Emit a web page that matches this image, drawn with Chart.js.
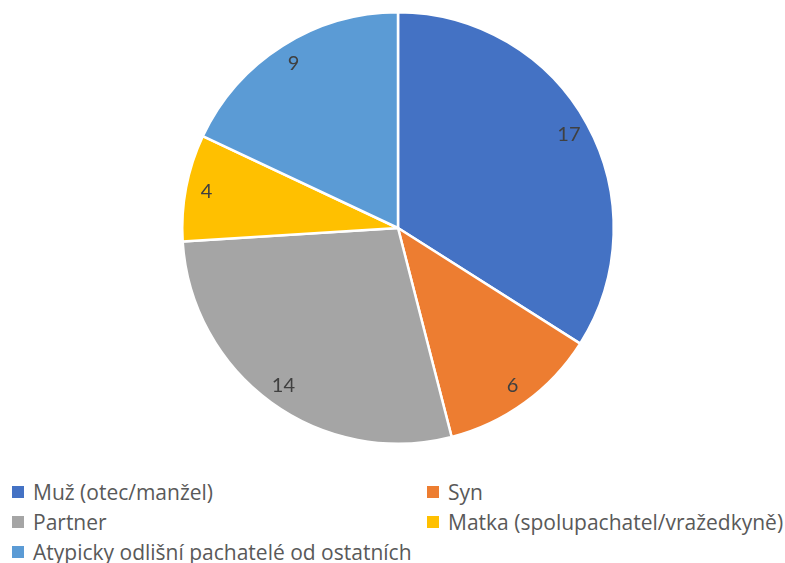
<!DOCTYPE html>
<html>
<head>
<meta charset="utf-8">
<script src="https://cdn.jsdelivr.net/npm/chart.js@4"></script>
<style>
  body { margin: 0; background: #fff; }
  .wrap { position: relative; width: 785px; height: 563px; }
  .pie-box { position: absolute; left: 0; top: 0; width: 785px; height: 460px; }
  .legend { position: absolute; left: 0; top: 480px; width: 785px; font-family: "Open Sans", "Liberation Sans", sans-serif; font-size: 21px; color: #595959; }
  .legend span { position: absolute; white-space: nowrap; line-height: 24px; padding-left: 21px; }
  .legend i { position: absolute; left: 0; top: 6px; width: 12px; height: 12px; }
</style>
</head>
<body>
<div class="wrap">
  <div class="pie-box"><canvas id="pie"></canvas></div>
  <div class="legend" id="legend"></div>
</div>
<script>
const categories = [
  'Muž (otec/manžel)',
  'Syn',
  'Partner',
  'Matka (spolupachatel/vražedkyně)',
  'Atypicky odlišní pachatelé od ostatních'
];
const values = [17, 6, 14, 4, 9];
const colors = ['#4472C4', '#ED7D31', '#A5A5A5', '#FFC000', '#5B9BD5'];

// numbers drawn inside each slice, near the rim
const sliceLabels = {
  id: 'sliceLabels',
  afterDatasetsDraw(chart) {
    const ctx = chart.ctx;
    const meta = chart.getDatasetMeta(0);
    ctx.save();
    ctx.font = '20px Lato, "Liberation Sans", sans-serif';
    ctx.fillStyle = '#404040';
    ctx.textAlign = 'center';
    ctx.textBaseline = 'middle';
    meta.data.forEach((arc, i) => {
      const p = arc.getProps(['x', 'y', 'startAngle', 'endAngle', 'outerRadius'], true);
      const mid = (p.startAngle + p.endAngle) / 2;
      const r = 195;
      ctx.fillText(String(values[i]), p.x + Math.cos(mid) * r, p.y + Math.sin(mid) * r);
    });
    ctx.restore();
  }
};

new Chart(document.getElementById('pie'), {
  type: 'pie',
  data: {
    labels: categories,
    datasets: [{
      data: values,
      backgroundColor: colors,
      borderColor: '#ffffff',
      borderWidth: 2.5
    }]
  },
  options: {
    responsive: true,
    maintainAspectRatio: false,
    animation: false,
    layout: { padding: { top: 11, bottom: 15, left: 11, right: 0 } },
    plugins: {
      legend: { display: false },
      tooltip: { enabled: false }
    }
  },
  plugins: [sliceLabels]
});

// legend laid out in two columns like the original
const legendEl = document.getElementById('legend');
const legendPos = [[12, 0], [427, 0], [12, 30], [427, 30], [12, 60]];
categories.forEach((name, i) => {
  const item = document.createElement('span');
  item.style.left = legendPos[i][0] + 'px';
  item.style.top = legendPos[i][1] + 'px';
  item.innerHTML = '<i style="background:' + colors[i] + '"></i>' + name;
  legendEl.appendChild(item);
});
</script>
</body>
</html>
